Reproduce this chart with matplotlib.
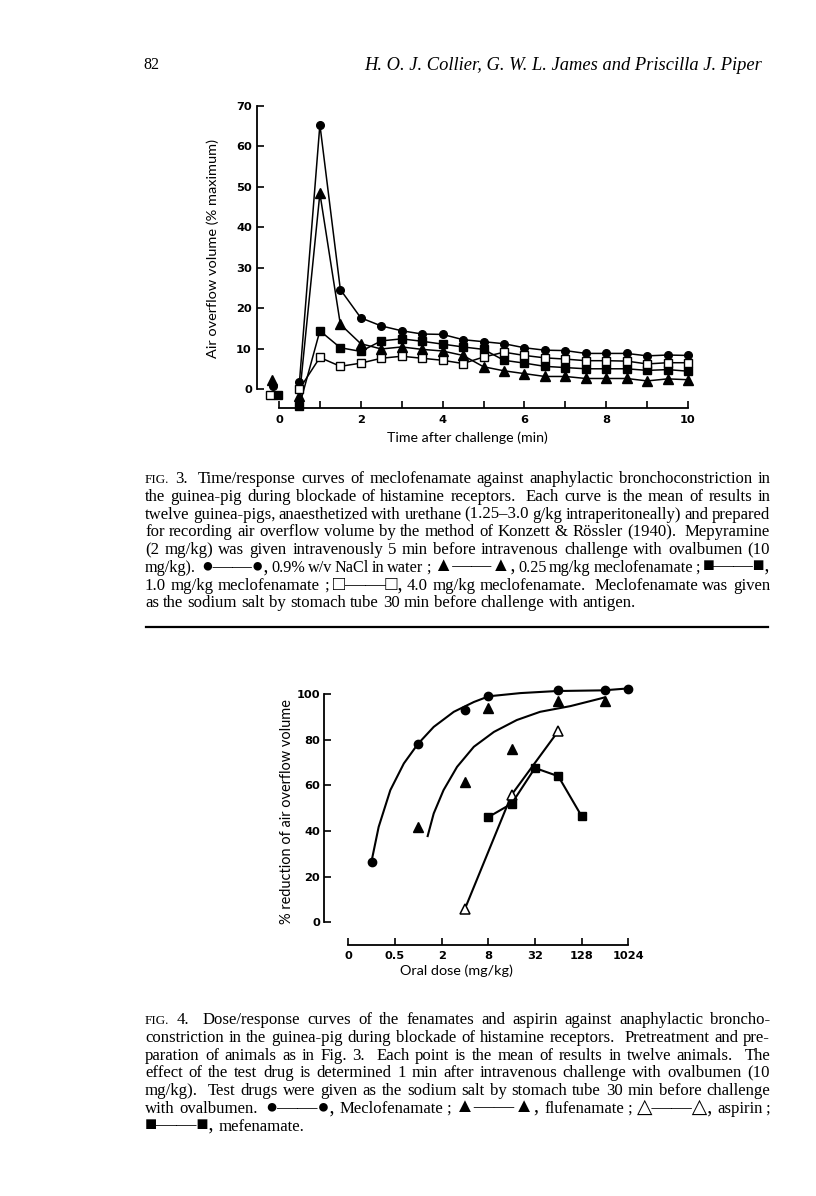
import re
import matplotlib
matplotlib.use('Agg')
import matplotlib.pyplot as plt
from matplotlib.lines import Line2D

W, H = 816, 1196

# ---- Fig. 3 data (time after challenge, % maximum air overflow) ----
t_min = [0.5, 1, 1.5, 2, 2.5, 3, 3.5, 4, 4.5, 5,
         5.5, 6, 6.5, 7, 7.5, 8, 8.5, 9, 9.5, 10]
nacl = [1.7, 65.4, 24.6, 17.6, 15.6, 14.4, 13.6, 13.5, 12.2, 11.7,
        11.2, 10.2, 9.6, 9.5, 8.8, 8.8, 8.8, 8.2, 8.4, 8.3]
mec025 = [-1.8, 48.4, 16.0, 11.2, 9.9, 10.4, 9.8, 9.4, 8.3, 5.5,
          4.5, 3.8, 3.1, 3.1, 2.6, 2.6, 2.6, 2.0, 2.5, 2.3]
mec10 = [-4.1, 14.4, 10.2, 9.3, 11.9, 12.4, 11.8, 11.1, 10.4, 9.8,
         7.1, 6.4, 5.6, 5.3, 5.0, 5.0, 5.0, 4.6, 4.8, 4.4]
mec40 = [0.0, 7.8, 5.6, 6.4, 7.6, 8.1, 7.6, 7.1, 6.3, 7.9,
         9.1, 8.3, 7.7, 7.4, 7.0, 7.0, 6.9, 6.2, 6.5, 6.5]
# pre-challenge points, drawn unconnected left of zero
pre_nacl = (-0.14, 0.7)
pre_mec025 = (-0.18, 2.2)
pre_mec10 = (-0.02, -1.5)
pre_mec40 = (-0.22, -1.5)

# ---- Fig. 4 data (x in tick-index units of the dose axis) ----
dose_labels = ['0', '0.5', '2', '8', '32', '128', '1024']
mecl_x = [0.5, 1.5, 2.5, 3.0, 4.5, 5.5, 6.0]
mecl_y = [26.5, 78.1, 92.9, 99.0, 101.6, 101.6, 102.4]
mecl_fit_x = [0.51, 0.65, 0.9, 1.19, 1.49, 1.83, 2.26, 2.69, 3.01, 3.69, 4.47, 5.47, 5.97]
mecl_fit_y = [28.0, 41.8, 57.9, 69.6, 78.1, 85.6, 92.2, 96.5, 99.0, 100.4, 101.3, 101.6, 102.4]
fluf_x = [1.5, 2.5, 3.0, 3.5, 4.5, 5.5]
fluf_y = [41.8, 61.5, 94.0, 75.8, 97.0, 97.0]
fluf_fit_x = [1.70, 1.83, 2.04, 2.33, 2.69, 3.12, 3.61, 4.11, 4.76, 5.4, 5.49]
fluf_fit_y = [37.8, 47.7, 57.9, 68.1, 76.9, 83.4, 88.6, 92.2, 94.7, 98.0, 98.5]
asp_x = [2.5, 3.5, 4.5]
asp_y = [6.0, 55.9, 83.8]
mef_x = [3.0, 3.5, 4.0, 4.5, 5.0]
mef_y = [46.1, 52.0, 67.6, 64.0, 46.5]

D = '\u2014\u2014'
cap3 = [
    "FIG. 3.  Time/response curves of meclofenamate against anaphylactic bronchoconstriction in",
    "the guinea-pig during blockade of histamine receptors.  Each curve is the mean of results in",
    "twelve guinea-pigs, anaesthetized with urethane (1.25\u20133.0 g/kg intraperitoneally) and prepared",
    "for recording air overflow volume by the method of Konzett & R\u00f6ssler (1940).  Mepyramine",
    "(2 mg/kg) was given intravenously 5 min before intravenous challenge with ovalbumen (10",
    "mg/kg).  \u25cf" + D + "\u25cf, 0.9% w/v NaCl in water ; \u25b2" + D + "\u25b2, 0.25 mg/kg meclofenamate ; \u25a0" + D + "\u25a0,",
    "1.0 mg/kg meclofenamate ; \u25a1" + D + "\u25a1, 4.0 mg/kg meclofenamate.  Meclofenamate was given",
    "as the sodium salt by stomach tube 30 min before challenge with antigen.",
]
cap4 = [
    "FIG. 4.  Dose/response curves of the fenamates and aspirin against anaphylactic broncho-",
    "constriction in the guinea-pig during blockade of histamine receptors.  Pretreatment and pre-",
    "paration of animals as in Fig. 3.  Each point is the mean of results in twelve animals.  The",
    "effect of the test drug is determined 1 min after intravenous challenge with ovalbumen (10",
    "mg/kg).  Test drugs were given as the sodium salt by stomach tube 30 min before challenge",
    "with  ovalbumen.   \u25cf" + D + "\u25cf,  Meclofenamate ;  \u25b2" + D + "\u25b2,  flufenamate ;  \u25b3" + D + "\u25b3,  aspirin ;",
    "\u25a0" + D + "\u25a0, mefenamate.",
]

serif = ['Liberation Serif', 'DejaVu Sans']
sans = 'Lato'
tickfont = 'DejaVu Sans'
shapes = '\u25cf\u25b2\u25a0\u25a1\u25b3'

fig = plt.figure(figsize=(W / 100, H / 100), dpi=100)
rend = fig.canvas.get_renderer()


def rect(l, r, top, bottom):
    return [l / W, 1 - bottom / H, (r - l) / W, (bottom - top) / H]


def fit_text(x, y, s, length, size=10, **kw):
    t = fig.text(x / W, 1 - y / H, s, fontsize=size, ha='center', va='center', **kw)
    bb = t.get_window_extent(rend)
    cur = max(bb.width, bb.height)
    t.set_fontsize(size * length / cur)
    return t


def justify(line, x0, x1, base, size, last=False):
    parts = re.split(r'( +)', line)
    words = parts[0::2]
    gaps = [len(g) for g in parts[1::2]]
    texts = []
    for w in words:
        fs = size
        if w == 'FIG.':
            fs = size * 0.78
        elif w[0] in shapes:
            fs = size * 1.2
        t = fig.text(0, 1 - base / H, w, fontsize=fs, family=serif, va='baseline')
        texts.append(t)
    while True:
        widths = [t.get_window_extent(rend).width for t in texts]
        if last or not gaps:
            sp = size * 0.25 * 100 / 72
            break
        sp = (x1 - x0 - sum(widths)) / sum(gaps)
        if sp >= 2.0:
            break
        for t in texts:
            t.set_fontsize(t.get_fontsize() * 0.985)
    x = x0
    for t, w, g in zip(texts, widths, gaps + [0]):
        t.set_x(x / W)
        x += w + g * sp


# ---- header ----
fit_text(151, 65, '82', 16, size=12, family=serif)
fit_text(563, 65, 'H. O. J. Collier, G. W. L. James and Priscilla J. Piper', 397,
         size=12, family=serif, style='italic')

# ---- Fig. 3 ----
ax = fig.add_axes(rect(256.9, 700.3, 106, 408))
ax.set_xlim(-0.54, 10.3)
ax.set_ylim(-4.7, 70)
k = dict(color='black', lw=1.1, clip_on=False)
ax.plot(t_min, nacl, marker='o', ms=5.5, **k)
ax.plot(t_min, mec025, marker='^', ms=6.5, **k)
ax.plot(t_min, mec10, marker='s', ms=5.5, **k)
ax.plot(t_min, mec40, marker='s', ms=5.5, mfc='white', mew=1.0, **k)
ax.plot(*pre_nacl, marker='o', ms=5.5, color='black', clip_on=False)
ax.plot(*pre_mec025, marker='^', ms=6.5, color='black', clip_on=False)
ax.plot(*pre_mec10, marker='s', ms=5.5, color='black', clip_on=False)
ax.plot(*pre_mec40, marker='s', ms=5.5, mfc='white', mec='black', mew=1.0, clip_on=False)
for s in ['top', 'right']:
    ax.spines[s].set_visible(False)
ax.spines['left'].set_bounds(0, 70)
ax.spines['bottom'].set_bounds(0, 10)
for s in ['left', 'bottom']:
    ax.spines[s].set_linewidth(1.3)
ax.set_xticks(range(0, 11))
ax.set_xticklabels([str(i) if i % 2 == 0 else '' for i in range(0, 11)])
ax.set_yticks(range(0, 71, 10))
ax.tick_params(direction='in', length=5, width=1.2, labelsize=8.2)
ax.tick_params(axis='y', pad=3.6)
ax.tick_params(axis='x', pad=5.0)
for lb in ax.get_xticklabels() + ax.get_yticklabels():
    lb.set_fontfamily(tickfont)
    lb.set_fontweight('bold')
ax.patch.set_alpha(0)
fit_text(213, 249, 'Air overflow volume (% maximum)', 218, size=10, family=sans, rotation=90)
fit_text(467, 438, 'Time after challenge (min)', 160, size=10, family=sans)

# caption 3
for i, line in enumerate(cap3):
    justify(line, 145, 770, 483 + i * 17.75, 12.1, last=(i == len(cap3) - 1))

# separator
fig.add_artist(Line2D([146 / W, 768 / W], [1 - 627 / H, 1 - 627 / H], color='black', lw=1.6))

# ---- Fig. 4 ----
ax2 = fig.add_axes(rect(323.6, 635.3, 694, 945))
ax2.set_xlim(-0.53, 6.15)
ax2.set_ylim(-9.9, 100)
ax2.plot(mecl_fit_x, mecl_fit_y, color='black', lw=1.5, clip_on=False)
ax2.plot(fluf_fit_x, fluf_fit_y, color='black', lw=1.5, clip_on=False)
ax2.plot(mecl_x, mecl_y, 'o', ms=6, color='black', clip_on=False)
ax2.plot(fluf_x, fluf_y, '^', ms=6.5, color='black', clip_on=False)
ax2.plot(asp_x, asp_y, marker='^', ms=6.5, mfc='white', mec='black', mew=1.1,
         color='black', lw=1.5, clip_on=False)
ax2.plot(mef_x, mef_y, marker='s', ms=6, color='black', lw=1.5, clip_on=False)
for s in ['top', 'right']:
    ax2.spines[s].set_visible(False)
ax2.spines['left'].set_bounds(0, 100)
ax2.spines['bottom'].set_bounds(0, 6)
for s in ['left', 'bottom']:
    ax2.spines[s].set_linewidth(1.3)
ax2.set_xticks(range(len(dose_labels)))
ax2.set_xticklabels(dose_labels)
ax2.set_yticks(range(0, 101, 20))
ax2.tick_params(direction='in', length=5, width=1.2, labelsize=8.2)
ax2.tick_params(axis='y', pad=2.6)
ax2.tick_params(axis='x', pad=4.5)
for lb in ax2.get_xticklabels() + ax2.get_yticklabels():
    lb.set_fontfamily(tickfont)
    lb.set_fontweight('bold')
ax2.patch.set_alpha(0)
fit_text(287, 812, '% reduction of air overflow volume', 225, size=10, family=sans, rotation=90)
fit_text(456, 971, 'Oral dose (mg/kg)', 113, size=10, family=sans)

# caption 4
for i, line in enumerate(cap4):
    justify(line, 145, 770, 1024 + i * 17.8, 12.1, last=(i == len(cap4) - 1))

fig.savefig('out.png', dpi=100)
